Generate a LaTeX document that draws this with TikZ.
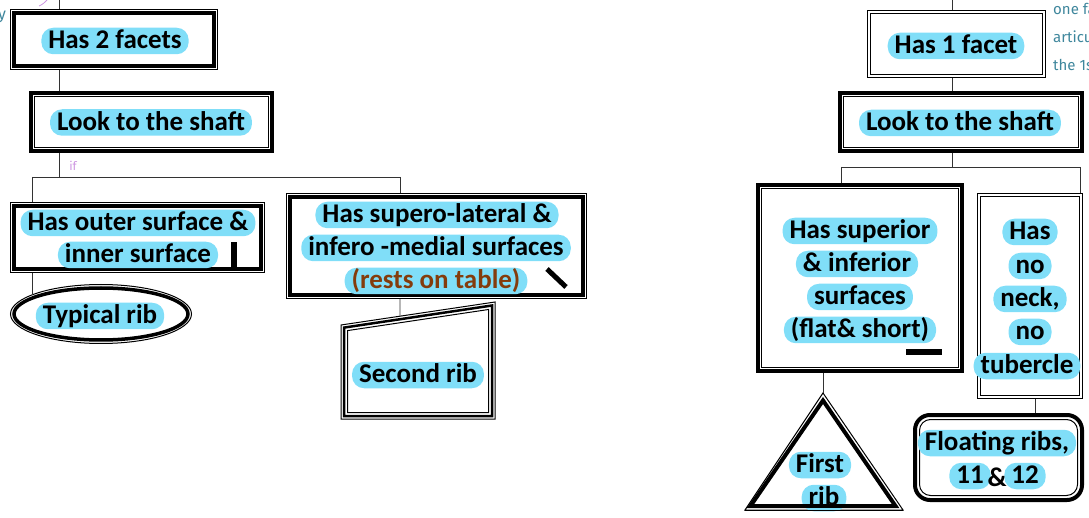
\documentclass[tikz,border=0pt]{standalone}
\usepackage{fontspec}
\setmainfont{Carlito}
\newfontfamily\handfont{Fira Sans}
\usetikzlibrary{calc,fit,shapes.geometric}

\definecolor{hlcyan}{RGB}{128,222,248}
\definecolor{browntext}{RGB}{132,60,12}
\definecolor{noteteal}{RGB}{62,134,156}
\definecolor{notepurple}{RGB}{205,150,225}

\tikzset{
  hl/.style={fill=hlcyan, rounded corners=12pt, inner xsep=7pt, inner ysep=0.5pt,
    text height=20.5pt, text depth=5pt, font=\bfseries\fontsize{27}{32}\selectfont},
  plain/.style={inner sep=0pt, font=\bfseries\fontsize{27}{32}\selectfont},
  frame/.style={inner sep=0pt, outer sep=0pt},
  thinln/.style={line width=1pt},
  midln/.style={line width=2.5pt},
  thickln/.style={line width=4pt},
  link/.style={line width=0.9pt, draw=black!80},
  note/.style={text=noteteal, inner sep=0pt, anchor=west, font=\handfont\fontsize{15}{18}\selectfont},
}

% frame with a heavy outer rule and a fine inner rule
\newcommand\thickthin[1]{%
  \draw[thickln] ([shift={(2,2)}]#1.north west) rectangle ([shift={(-2,-2)}]#1.south east);
  \draw[thinln] ([shift={(5.5,5.5)}]#1.north west) rectangle ([shift={(-5.5,-5.5)}]#1.south east);}
% frame with a fine outer rule and a heavy inner rule
\newcommand\thinthick[1]{%
  \draw[thinln] ([shift={(0.5,0.5)}]#1.north west) rectangle ([shift={(-0.5,-0.5)}]#1.south east);
  \draw[thickln] ([shift={(4,4)}]#1.north west) rectangle ([shift={(-4,-4)}]#1.south east);}
% frame with two fine rules
\newcommand\thinthin[1]{%
  \draw[thinln] ([shift={(0.5,0.5)}]#1.north west) rectangle ([shift={(-0.5,-0.5)}]#1.south east);
  \draw[thinln] ([shift={(3.5,3.5)}]#1.north west) rectangle ([shift={(-3.5,-3.5)}]#1.south east);}

\begin{document}
\begin{tikzpicture}[x=1pt,y=-1pt]
\useasboundingbox (0,0) rectangle (1089,518);
\clip (0,0) rectangle (1089,518);

% ---------------- left branch ----------------
\node[frame, fit={(10,9) (218,70)}] (facets2) {};
\thinthick{facets2}
\node[frame, fit={(29,91) (274,153)}] (lookL) {};
\thickthin{lookL}
\node[frame, fit={(10,202) (265,273)}] (outer) {};
\thinthick{outer}
\fill (231,242) rectangle (237,268);
\node[frame, ellipse, minimum width=181pt, minimum height=59pt] (typ) at (101,314) {};
\draw[thinln] (typ.center) ellipse [x radius=90.5pt, y radius=29.5pt];
\draw[line width=3.5pt] (typ.center) ellipse [x radius=87pt, y radius=26pt];
\node[frame, fit={(286,193) (587,299)}] (supero) {};
\thinthick{supero}
\draw[line width=5pt] (547,269) -- (566,287);

% second rib: slanted-top box
\coordinate (srTL) at (341,325);
\coordinate (srTR) at (495,302);
\coordinate (srBR) at (495,419);
\coordinate (srBL) at (341,419);
\node[frame, fit=(srTL)(srTR)(srBR)(srBL)] (second) {};
\draw[thinln] (srTL) -- (srTR) -- (srBR) -- (srBL) -- cycle;
\draw[midln] (344,327.6) -- (492,305.5) -- (492,416) -- (344,416) -- cycle;
\draw[thinln] (347.5,330.6) -- (488.5,309.5) -- (488.5,412.5) -- (347.5,412.5) -- cycle;
\coordinate (srTop) at ($(srTL)!0.383!(srTR)$);

% connectors, left
\coordinate (topL) at (59,0);
\coordinate (splitL) at (59,177);
\coordinate (brL1) at (32,177);
\coordinate (brL2) at (400,177);
\draw[link] (topL) -- (facets2.north -| topL);
\draw[link] (facets2.south -| topL) -- (lookL.north -| topL);
\draw[link] (lookL.south -| topL) -- (splitL);
\draw[link] (brL1) -- (brL2);
\draw[link] (brL1) -- (outer.north -| brL1);
\draw[link] (outer.south -| brL1) -- (brL1 |- typ.164);
\draw[link] (brL2) -- (supero.north -| brL2);
\draw[link] (supero.south -| brL2) -- (srTop);

% labels, left
\node[hl] (t2f) at (115,41) {Has 2 facets};
\node[hl] (tlookL) at (151,122.5) {Look to the shaft};
\node[hl] (tout1) at (138,223) {Has outer surface \&};
\node[hl] (tout2) at (138,255) {inner surface};
\node[hl] (ttyp) at (100,316) {Typical rib};
\node[hl] (tsup1) at (437,215) {Has supero-lateral \&};
\node[hl] (tsup2) at (436,248) {infero -medial surfaces};
\node[hl, text=browntext] (tsup3) at (436,281) {(rests on table)};
\node[hl] (tsec) at (418,375) {Second rib};

% ---------------- right branch ----------------
\node[frame, fit={(867,10) (1046,78)}] (facet1) {};
\thinthin{facet1}
\node[frame, fit={(838,91) (1084,153)}] (lookR) {};
\thickthin{lookR}
\node[frame, fit={(756,183) (964,373)}] (supinf) {};
\thickthin{supinf}
\fill (906,349) rectangle (942,355);
\node[frame, fit={(977,193) (1083,399)}] (noneck) {};
\thinthin{noneck}
\node[frame, fit={(913,413) (1084,502)}] (float) {};
\draw[thickln, rounded corners=15pt] ([shift={(2,2)}]float.north west) rectangle ([shift={(-2,-2)}]float.south east);
\draw[thinln, rounded corners=11pt] ([shift={(6.5,6.5)}]float.north west) rectangle ([shift={(-6.5,-6.5)}]float.south east);

% first rib: triangle
\coordinate (apex) at (823,393);
\draw[thinln] (apex) -- (903,510) -- (745,510) -- cycle;
\draw[thickln] (823,400.5) -- (895.5,506) -- (750.5,506) -- cycle;

% connectors, right
\coordinate (topR) at (952,0);
\coordinate (splitR) at (952,167);
\coordinate (brR1) at (841,167);
\coordinate (brR2) at (1080,167);
\coordinate (nnDrop) at (1035,413);
\draw[link] (topR) -- (facet1.north -| topR);
\draw[link] (facet1.south -| topR) -- (lookR.north -| topR);
\draw[link] (lookR.south -| topR) -- (splitR);
\draw[link] (brR1) -- (brR2);
\draw[link] (brR1) -- (supinf.north -| brR1);
\draw[link] (brR2) -- (noneck.north -| brR2);
\draw[link] (supinf.south -| apex) -- (apex);
\draw[link] (noneck.south -| nnDrop) -- (float.north -| nnDrop);

% labels, right
\node[hl] (t1f) at (956,46) {Has 1 facet};
\node[hl] (tlookR) at (960,123) {Look to the shaft};
\node[hl] (tsi1) at (860,231) {Has superior};
\node[hl] (tsi2) at (857,264) {\& inferior};
\node[hl] (tsi3) at (860,297) {surfaces};
\node[hl] (tsi4) at (860,330) {(flat\& short)};
\node[hl] (tnn1) at (1030,232) {Has};
\node[hl] (tnn2) at (1030,266) {no};
\node[hl] (tnn3) at (1030,299) {neck,};
\node[hl] (tnn4) at (1030,332) {no};
\node[hl] (tnn5) at (1027,366) {tubercle};
\node[hl] (tfl1) at (997,443) {Floating ribs,};
\node[hl] (tfl11) at (970,476) {11};
\node[hl] (tfl12) at (1025,476) {12};
\node[plain] (tflamp) at (997,477) {\&};
\node[hl] (tfirst) at (820,465) {First};
\node[hl] (trib) at (824,498) {rib};
\draw[thickln] (750.5,506) -- (895.5,506);
\draw[thinln] (745,510) -- (903,510);

% handwritten margin notes
\node[text=noteteal, inner sep=0pt, font=\handfont\fontsize{16}{18}\selectfont] (noteY) at (2,17) {y};
\draw[notepurple, line width=0.8pt] (39,6) .. controls (43,4) .. (47,0);
\node[text=notepurple, inner sep=0pt, font=\handfont\fontsize{12}{14}\selectfont] (noteIf) at (73,166) {if};
\node[note] (noteA) at (1053,9) {one fa};
\node[note] (noteB) at (1053,37) {articu};
\node[note] (noteC) at (1053,65) {the 1s};
\end{tikzpicture}
\end{document}
